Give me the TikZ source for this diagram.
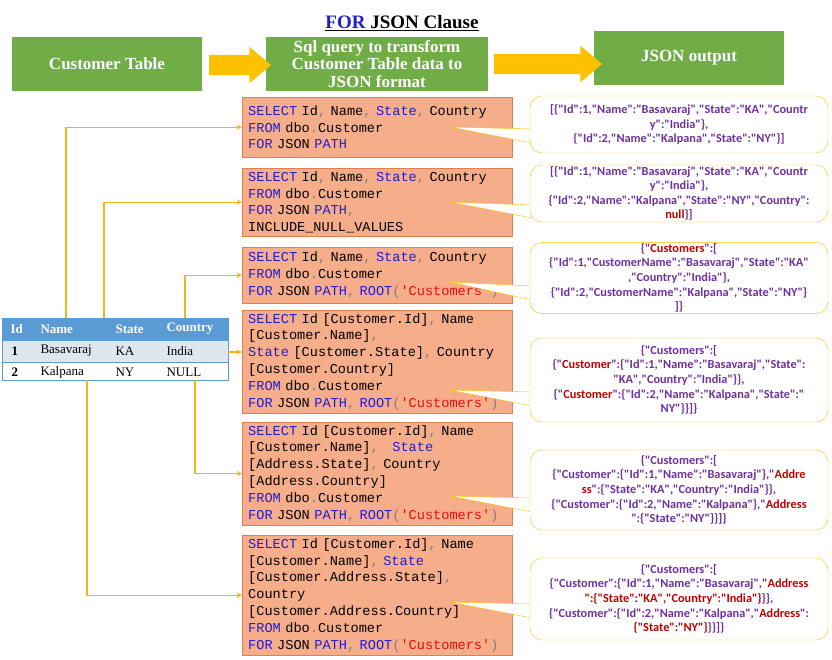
\documentclass[tikz,border=0pt]{standalone}
\usepackage{fontspec}
\setmainfont{Liberation Serif}
\newfontfamily\codefont{Liberation Mono}
\newfontfamily\jsonfont{Carlito}
\usetikzlibrary{shapes,arrows,positioning}
\definecolor{boxgreen}{HTML}{70AD47}
\definecolor{arrowyellow}{HTML}{FFC000}
\definecolor{linkorange}{HTML}{F5B41A}
\definecolor{sqlfill}{HTML}{F6AD8A}
\definecolor{sqlline}{HTML}{E08050}
\definecolor{kwblue}{HTML}{1F1FD0}
\definecolor{strred}{HTML}{E01010}
\definecolor{jsonpurple}{HTML}{7030A0}
\definecolor{jsonred}{HTML}{C00000}
\definecolor{headblue}{HTML}{5B9BD5}
\definecolor{rowblue}{HTML}{DEE6F0}
\newcommand{\kw}[1]{\textcolor{kwblue}{#1}}
\newcommand{\pu}[1]{\textcolor{gray}{#1}}
\newcommand{\sq}[1]{\textcolor{strred}{#1}}
\newcommand{\jr}[1]{\textcolor{jsonred}{#1}}
\begin{document}
\begin{tikzpicture}[
    x=1pt, y=-1pt,
    stage/.style={rectangle, fill=boxgreen, text=white, font=\bfseries\fontsize{17}{17.5}\selectfont, align=center, inner sep=0pt},
    sql/.style={rectangle, draw=sqlline, fill=sqlfill, anchor=north west, minimum width=270pt, text width=258pt, align=left, inner xsep=6pt, inner ysep=3pt, font=\codefont\fontsize{13.6}{16.8}\selectfont},
    json/.style={rectangle, draw=arrowyellow, fill=white, rounded corners=12pt, minimum width=298pt, text width=294pt, align=center, inner sep=1pt, text=jsonpurple, font=\jsonfont\bfseries\fontsize{12.3}{14.6}\selectfont},
    link/.style={->, >=stealth, draw=linkorange, line width=1.4pt},
    bigarrow/.style={single arrow, fill=arrowyellow, minimum height=62pt, inner xsep=0pt, inner ysep=10pt, single arrow head extend=8pt, single arrow tip angle=80},
    cell/.style={anchor=west, font=\fontsize{13}{13}\selectfont},
    hcell/.style={cell, font=\bfseries\fontsize{13}{13}\selectfont}
]
\useasboundingbox (0,0) rectangle (832,659);

% Title
\node[font=\bfseries\fontsize{19}{20}\selectfont] (title) at (402,23) {\underline{\kw{FOR} JSON Clause}};

% Stages
\node[stage, minimum width=190pt, minimum height=54pt] (table) at (107,64) {Customer Table};
\node[stage, minimum width=222pt, minimum height=54pt] (query) at (377,64) {Sql query to transform\\Customer Table data to\\JSON format};
\node[stage, minimum width=190pt, minimum height=54pt] (output) at (689,58) {JSON output};
\node[bigarrow] (a1) at (234,65) {};
\node[bigarrow, minimum height=108pt] (a2) at (542,64) {};

% Customer table
\fill[headblue] (2,318) rectangle (228,341);
\fill[rowblue] (2,341) rectangle (228,362);
\draw[headblue, thick] (2,318) rectangle (228,380);
\draw[headblue, thick] (2,362) -- (228,362);
\node[hcell, text=white] (hid) at (7,329) {Id};
\node[hcell, text=white] (hname) at (37,329) {Name};
\node[hcell, text=white] (hstate) at (112,329) {State};
\node[hcell, text=white] (hcountry) at (163,329) {Country};
\node[hcell] (r1id) at (8,351) {1};
\node[cell] (r1name) at (37,351) {Basavaraj};
\node[cell] (r1state) at (112,351) {KA};
\node[cell] (r1country) at (163,351) {India};
\node[hcell] (r2id) at (8,372) {2};
\node[cell] (r2name) at (37,372) {Kalpana};
\node[cell] (r2state) at (112,372) {NY};
\node[cell] (r2country) at (163,372) {NULL};
\coordinate (t1) at (66,318);
\coordinate (t2) at (104,318);
\coordinate (t3) at (185,318);
\coordinate (t4) at (228,352);
\coordinate (t5) at (195,380);
\coordinate (t6) at (87,380);

% SQL queries
\node[sql, minimum height=60pt] (sql1) at (242,97) {\kw{SELECT} Id\pu{,} Name\pu{,} \kw{State}\pu{,} Country\\\kw{FROM} dbo\pu{.}Customer\\\kw{FOR} JSON \kw{PATH}};
\node[sql, minimum height=68pt] (sql2) at (242,168) {\kw{SELECT} Id\pu{,} Name\pu{,} \kw{State}\pu{,} Country\\\kw{FROM} dbo\pu{.}Customer\\\kw{FOR} JSON \kw{PATH}\pu{,}\\INCLUDE\_NULL\_VALUES};
\node[sql, minimum height=56pt] (sql3) at (242,247) {\kw{SELECT} Id\pu{,} Name\pu{,} \kw{State}\pu{,} Country\\\kw{FROM} dbo\pu{.}Customer\\\kw{FOR} JSON \kw{PATH}\pu{,} \kw{ROOT}\pu{(}\sq{'Customers'}\pu{)}};
\node[sql, minimum height=100pt] (sql4) at (242,310) {\kw{SELECT} Id [Customer.Id]\pu{,} Name\\{}[Customer.Name]\pu{,}\\\kw{State} [Customer.State]\pu{,} Country\\{}[Customer.Country]\\\kw{FROM} dbo\pu{.}Customer\\\kw{FOR} JSON \kw{PATH}\pu{,} \kw{ROOT}\pu{(}\sq{'Customers'}\pu{)}};
\node[sql, minimum height=98pt] (sql5) at (242,422) {\kw{SELECT} Id [Customer.Id]\pu{,} Name\\{}[Customer.Name]\pu{,}\ \ \ \kw{State}\\{}[Address.State]\pu{,} Country\\{}[Address.Country]\\\kw{FROM} dbo\pu{.}Customer\\\kw{FOR} JSON \kw{PATH}\pu{,} \kw{ROOT}\pu{(}\sq{'Customers'}\pu{)}};
\node[sql, minimum height=120pt] (sql6) at (242,535) {\kw{SELECT} Id [Customer.Id]\pu{,} Name\\{}[Customer.Name]\pu{,} \kw{State}\\{}[Customer.Address.State]\pu{,}\\Country\\{}[Customer.Address.Country]\\\kw{FROM} dbo\pu{.}Customer\\\kw{FOR} JSON \kw{PATH}\pu{,} \kw{ROOT}\pu{(}\sq{'Customers'}\pu{)}};

% Connectors from table to queries
\draw[link] (t1) |- (sql1.west);
\draw[link] (t2) |- (sql2.west);
\draw[link] (t3) |- (sql3.west);
\draw[link] (t4) -- (t4 -| sql4.west);
\draw[link] (t5) |- (sql5.west);
\draw[link] (t6) |- (sql6.west);

% JSON outputs
\coordinate (p1) at (450,127);
\coordinate (p2) at (450,202);
\coordinate (p3) at (450,282);
\coordinate (p4) at (450,390);
\coordinate (p5) at (450,496);
\coordinate (p6) at (450,602);
\fill[white, draw=arrowyellow] (p1) -- (532,129) -- (532,143) -- cycle;
\fill[white, draw=arrowyellow] (p2) -- (532,205) -- (532,218) -- cycle;
\fill[white, draw=arrowyellow] (p3) -- (532,286) -- (532,300) -- cycle;
\fill[white, draw=arrowyellow] (p4) -- (532,392) -- (532,406) -- cycle;
\fill[white, draw=arrowyellow] (p5) -- (532,498) -- (532,512) -- cycle;
\fill[white, draw=arrowyellow] (p6) -- (532,604) -- (532,618) -- cycle;
\node[json, minimum height=57pt] (out1) at (679,124.5) {[\{"Id":1,"Name":"Basavaraj","State":"KA","Countr\\y":"India"\},\\\{"Id":2,"Name":"Kalpana","State":"NY"\}]};
\node[json, minimum height=57pt] (out2) at (679,193.5) {[\{"Id":1,"Name":"Basavaraj","State":"KA","Countr\\y":"India"\},\\\{"Id":2,"Name":"Kalpana","State":"NY","Country":\\\jr{null}\}]};
\node[json, minimum height=70pt] (out3) at (679,278) {\{"\jr{Customers}":[\\\{"Id":1,"CustomerName":"Basavaraj","State":"KA"\\,"Country":"India"\},\\\{"Id":2,"CustomerName":"Kalpana","State":"NY"\}\\]\}};
\node[json, minimum height=84pt] (out4) at (679,380) {\{"Customers":[\\\{"\jr{Customer}":\{"Id":1,"Name":"Basavaraj","State":\\"KA","Country":"India"\}\},\\\{"\jr{Customer}":\{"Id":2,"Name":"Kalpana","State":"\\NY"\}\}]\}};
\node[json, minimum height=80pt] (out5) at (679,490) {\{"Customers":[\\\{"Customer":\{"Id":1,"Name":"Basavaraj"\},"\jr{Addre}\\\jr{ss}":\{"State":"KA","Country":"India"\}\},\\\{"Customer":\{"Id":2,"Name":"Kalpana"\},"\jr{Address}\\":\{"State":"NY"\}\}]\}};
\node[json, minimum height=82pt] (out6) at (679,599) {\{"Customers":[\\\{"Customer":\{"Id":1,"Name":"Basavaraj","\jr{Address}\\\jr{":\{"State":"KA","Country":"India"\}}\}\},\\\{"Customer":\{"Id":2,"Name":"Kalpana","\jr{Address}":\\\jr{\{"State":"NY"\}}\}\}]\}};
\end{tikzpicture}
\end{document}
